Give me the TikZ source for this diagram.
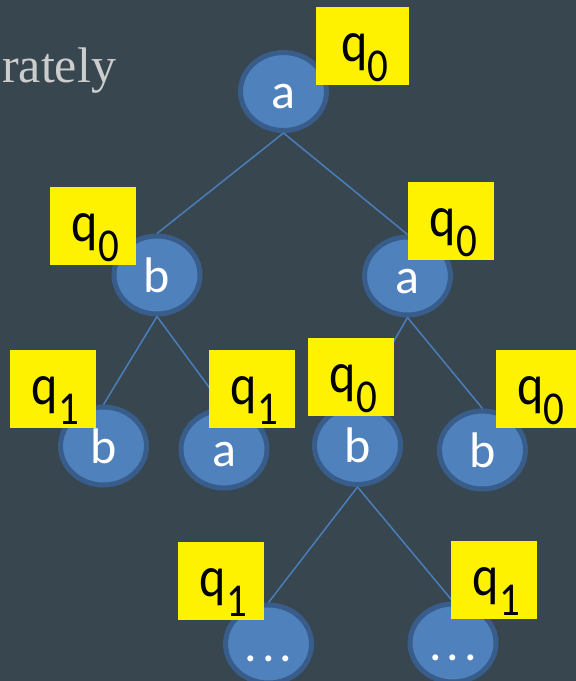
\documentclass[tikz,border=0pt]{standalone}
\usepackage{fontspec}
\setmainfont{Carlito}
\newfontfamily\serifttl{Liberation Serif}
\usetikzlibrary{shapes.geometric}
\definecolor{bgc}{RGB}{55,70,79}
\definecolor{nodefill}{RGB}{79,129,189}
\definecolor{nodeedge}{RGB}{56,93,138}
\definecolor{edgec}{RGB}{74,126,187}
\definecolor{titlegray}{RGB}{205,205,205}
\newcommand{\qlab}[1]{\hspace*{5pt}\scalebox{1}[1.15]{\fontsize{50}{50}\selectfont q\raisebox{-18pt}{\fontsize{41}{41}\selectfont #1}}}
\tikzset{
 tnode/.style={ellipse, fill=nodefill, draw=nodeedge, line width=5pt, minimum width=86pt, minimum height=78pt, inner sep=0pt, text=white, font=\fontsize{50}{50}\selectfont, text height=38pt, text depth=4pt},
 qbox/.style={rectangle, fill=yellow, minimum width=86pt, minimum height=78pt, inner sep=0pt, text=black, text height=40pt, text depth=10pt},
 tedge/.style={draw=edgec, line width=1.5pt}
}
\begin{document}
\begin{tikzpicture}[x=1pt,y=-1pt]
\useasboundingbox (0,0) rectangle (576,681);
\clip (0,0) rectangle (576,681);
\fill[bgc] (0,0) rectangle (576,681);
\node[anchor=base west, font=\serifttl\fontsize{50}{50}\selectfont, text=titlegray, inner sep=0pt] (title) at (2,82) {rately};
% tree nodes
\node[tnode] (r)  at (283.5,91.5) {a};
\node[tnode] (b1) at (157,275) {b};
\node[tnode] (a1) at (407.5,276) {a};
\node[tnode] (b2) at (103.5,446) {b};
\node[tnode] (a2) at (224,449) {a};
\node[tnode] (b3) at (357.5,445.5) {b};
\node[tnode] (b4) at (482.5,450) {b};
\node[tnode] (d1) at (268.5,644) {.\kern5pt.\kern5pt.};
\node[tnode] (d2) at (453,643) {.\kern5pt.\kern5pt.};
% edges
\draw[tedge] (r.south) -- (b1.north);
\draw[tedge] (r.south) -- (a1.north);
\draw[tedge] (b1.south) -- (b2.north);
\draw[tedge] (b1.south) -- (a2.north);
\draw[tedge] (a1.south) -- (b3.north);
\draw[tedge] (a1.south) -- (b4.north);
\draw[tedge] (b3.south) -- (d1.north);
\draw[tedge] (b3.south) -- (d2.north);
% state labels
\node[qbox, minimum width=93pt] (l0) at (362.5,46) {\qlab{0}};
\node[qbox] (l1) at (93,226) {\qlab{0}};
\node[qbox] (l2) at (451,221) {\qlab{0}};
\node[qbox] (l3) at (53,389) {\qlab{1}};
\node[qbox] (l4) at (252,389) {\qlab{1}};
\node[qbox] (l5) at (351,377) {\qlab{0}};
\node[qbox, minimum width=80pt] (l6) at (536,389) {\hspace*{5pt}\qlab{0}};
\node[qbox] (l7) at (221,581) {\qlab{1}};
\node[qbox] (l8) at (494,580) {\qlab{1}};
\end{tikzpicture}
\end{document}
